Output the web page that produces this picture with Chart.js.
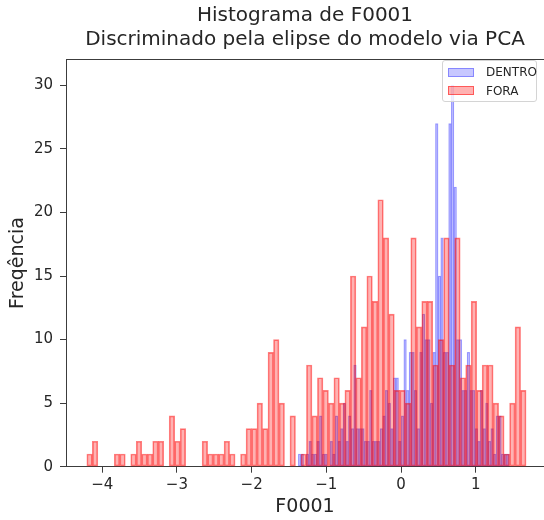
<!DOCTYPE html>
<html><head><meta charset="utf-8">
<script src="https://cdn.jsdelivr.net/npm/chart.js@4"></script>
<style>
html,body{margin:0;padding:0;background:#fff;}
#wrap{position:relative;width:544px;height:520px;overflow:hidden;}
#legend{position:absolute;left:442px;top:60px;width:95px;height:42px;box-sizing:border-box;border:1px solid #d4d4d4;border-radius:3px;background:rgba(255,255,255,0.8);font-family:"DejaVu Sans",sans-serif;font-size:12px;color:#262626;}
.item{position:absolute;left:5px;height:12px;display:flex;align-items:center;white-space:nowrap;}
.sw{width:26px;height:9px;box-sizing:border-box;margin-right:12px;}
</style></head>
<body><div id="wrap"><canvas id="c" width="544" height="520"></canvas><div id="legend"></div></div>
<script>
// ---- data ----
const seriesNames = ['DENTRO', 'FORA'];
const titleLines = ['Histograma de F0001', 'Discriminado pela elipse do modelo via PCA'];
const xLabel = 'F0001';
const yLabel = 'Freqência';
// histogram bins (80 bins each): first bin left edge and bin width
const dentroBinStart = -1.375, dentroBinWidth = 0.0353;
const foraBinStart = -4.206, foraBinWidth = 0.0735;
const dentroCounts = [
  1,1,0,1,2,1,1,2,4,1,
  1,0,2,1,4,2,3,5,2,4,
  3,8,3,3,3,2,2,6,2,2,
  2,3,4,6,5,3,7,7,2,4,
  10,6,9,9,6,3,9,12,10,10,
  5,9,27,15,18,9,9,27,30,22,
  10,10,6,6,9,6,6,3,2,6,
  3,5,2,3,1,4,4,1,1,1
];
const foraCounts = [
  1,2,0,0,0,1,1,0,1,2,
  1,1,2,2,0,4,2,3,0,0,
  0,2,1,1,1,2,1,0,1,3,
  3,5,3,9,10,5,0,4,0,1,
  8,4,7,6,5,7,5,6,15,7,
  11,15,13,21,18,12,6,6,5,18,
  11,13,13,8,10,18,8,18,7,8,
  13,6,8,8,5,4,1,5,11,6
];
const xRange = [-4.485, 1.914];
const yRange = [0, 32.05];
const xTickStep = 1, yTickStep = 5;

// ---- styles ----
const FONT = '"DejaVu Sans", sans-serif';
const textColor = '#262626';
const axisColor = '#3c3c3c';
const colors = {
  DENTRO: { bg: 'rgba(0,0,255,0.22)', border: 'rgba(0,0,255,0.32)' },
  FORA: { bg: 'rgba(255,0,0,0.3)', border: 'rgba(255,0,0,0.5)' }
};

const toPoints = (counts, start, width) => counts.map((c, i) => ({ x: start + (i + 0.5) * width, y: c }));
const fmt = v => (v < 0 ? '\u2212' + Math.abs(v) : String(v));

// legend (html, drawn over the plot like matplotlib's inner legend)
const legendEl = document.getElementById('legend');
seriesNames.forEach((name, i) => {
  const it = document.createElement('div');
  it.className = 'item';
  it.style.top = (5 + i * 18.5) + 'px';
  const sw = document.createElement('span');
  sw.className = 'sw';
  sw.style.background = colors[name].bg;
  sw.style.border = '1px solid ' + colors[name].border;
  const tx = document.createElement('span');
  tx.textContent = name;
  it.appendChild(sw); it.appendChild(tx);
  legendEl.appendChild(it);
});

const chart = new Chart(document.getElementById('c'), {
  type: 'bar',
  data: {
    datasets: [
      {
        label: seriesNames[1],
        data: toPoints(foraCounts, foraBinStart, foraBinWidth),
        xAxisID: 'x', yAxisID: 'y', order: 0, grouped: false,
        backgroundColor: colors.FORA.bg, borderColor: colors.FORA.border,
        borderWidth: 1, borderSkipped: false,
        barPercentage: 1, categoryPercentage: 1
      },
      {
        label: seriesNames[0],
        data: toPoints(dentroCounts, dentroBinStart, dentroBinWidth),
        xAxisID: 'x', yAxisID: 'y', order: 1, grouped: false,
        backgroundColor: colors.DENTRO.bg, borderColor: colors.DENTRO.border,
        borderWidth: 0.6, borderSkipped: false,
        barPercentage: 1, categoryPercentage: 1
      }
    ]
  },
  options: {
    responsive: false, animation: false, events: [],
    layout: { padding: 0 },
    plugins: {
      legend: { display: false },
      tooltip: { enabled: false },
      title: {
        display: true, text: titleLines, fullSize: false, color: textColor,
        font: { family: FONT, size: 20, weight: 'normal', lineHeight: 1.2 },
        padding: { top: 4, bottom: 0 }
      }
    },
    scales: {
      x: {
        type: 'linear', position: 'bottom', min: xRange[0], max: xRange[1], offset: false,
        grid: { display: true, drawOnChartArea: false, drawTicks: true, tickLength: 6, color: axisColor, offset: false },
        border: { display: true, color: axisColor, width: 1 },
        ticks: { stepSize: xTickStep, includeBounds: false, color: textColor, font: { family: FONT, size: 15 }, padding: 3, maxRotation: 0, autoSkip: false, callback: v => fmt(v) },
        title: { display: true, text: xLabel, color: textColor, font: { family: FONT, size: 19, lineHeight: 1.2 }, padding: { top: 0, bottom: 1.6 } },
        afterFit: s => { s.height = 53.3; }
      },
      x2: {
        type: 'linear', position: 'top', min: xRange[0], max: xRange[1], offset: false,
        grid: { display: true, drawOnChartArea: false, drawTicks: false, color: axisColor },
        border: { display: true, color: axisColor, width: 1 },
        ticks: { display: false, stepSize: xTickStep, includeBounds: false },
        afterFit: s => { s.height = 7.3; }
      },
      y: {
        type: 'linear', position: 'left', min: yRange[0], max: yRange[1],
        grid: { display: true, drawOnChartArea: false, drawTicks: true, tickLength: 6, color: axisColor },
        border: { display: true, color: axisColor, width: 1 },
        ticks: { stepSize: yTickStep, includeBounds: false, color: textColor, font: { family: FONT, size: 15 }, padding: 7, callback: v => fmt(v) },
        title: { display: true, text: yLabel, color: textColor, font: { family: FONT, size: 19, lineHeight: 1.2 }, padding: { top: 6.6, bottom: 0 } },
        afterFit: s => { s.width = 66; }
      }
    }
  }
});

// bar width = bin width, measured through the x scale
(function fitBars() {
  const sx = chart.scales.x;
  const pxPerUnit = Math.abs(sx.getPixelForValue(1) - sx.getPixelForValue(0));
  chart.data.datasets[0].barThickness = foraBinWidth * pxPerUnit;
  chart.data.datasets[1].barThickness = dentroBinWidth * pxPerUnit;
  chart.update('none');
})();
</script>
</body></html>
